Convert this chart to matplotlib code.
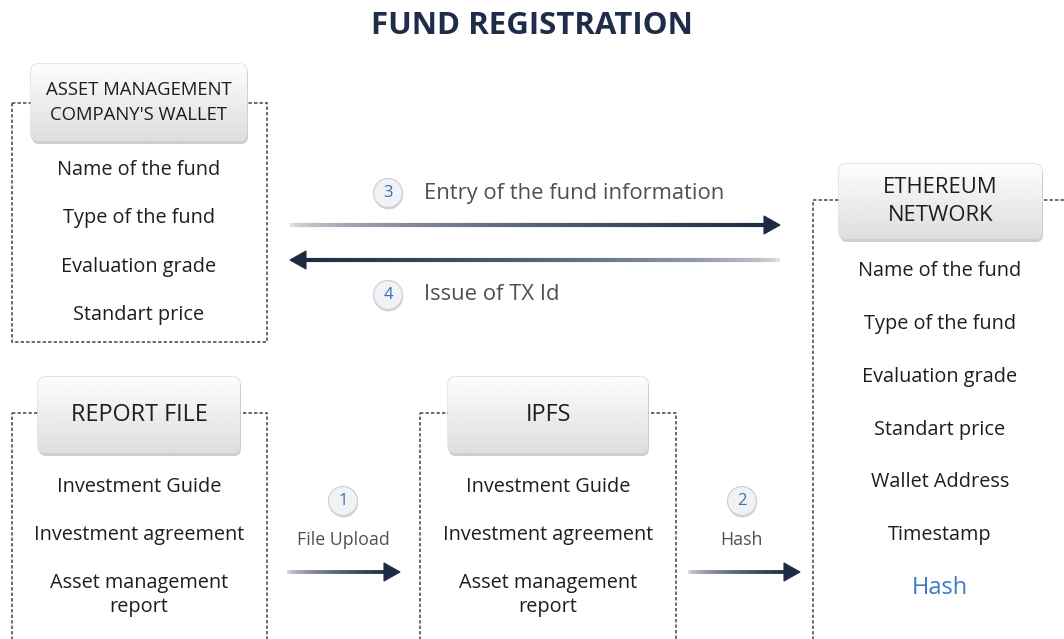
"""Fund registration flow diagram, drawn in pixel coordinates."""

import matplotlib

matplotlib.use("Agg")

import matplotlib.pyplot as plt  # noqa: E402
import numpy as np  # noqa: E402
from matplotlib.collections import LineCollection  # noqa: E402
from matplotlib.patches import Circle, FancyBboxPatch, Polygon, Rectangle  # noqa: E402

plt.rcParams["font.family"] = ["Open Sans", "DejaVu Sans"]

TITLE = "FUND REGISTRATION"

wallet_header = ["ASSET MANAGEMENT", "COMPANY'S WALLET"]
wallet_items = ["Name of the fund", "Type of the fund", "Evaluation grade", "Standart price"]

report_header = ["REPORT FILE"]
report_items = ["Investment Guide", "Investment agreement", "Asset management\nreport"]

ipfs_header = ["IPFS"]
ipfs_items = ["Investment Guide", "Investment agreement", "Asset management\nreport"]

eth_header = ["ETHEREUM", "NETWORK"]
eth_items = ["Name of the fund", "Type of the fund", "Evaluation grade", "Standart price",
             "Wallet Address", "Timestamp", "Hash"]

steps = ["1", "2", "3", "4"]
step_labels = ["File Upload", "Hash", "Entry of the fund information", "Issue of TX Id"]

NAVY = "#1c2a44"
TEXT = "#1e1e1e"
GREY_TEXT = "#505050"
BLUE = "#3a7bc8"

fig = plt.figure(figsize=(10.64, 6.39), dpi=100)
ax = fig.add_axes([0, 0, 1, 1])
ax.set_xlim(0, 1064)
ax.set_ylim(639, 0)
ax.axis("off")


def dashed_box(x0, y0, x1, y1):
    ax.add_patch(Rectangle((x0, y0), x1 - x0, y1 - y0, fill=False, edgecolor="#3f4450",
                           linewidth=1.1, linestyle=(0, (2.2, 1.4)), zorder=1))


def header(x0, y0, x1, y1, lines, size):
    shadow = FancyBboxPatch((x0 + 1, y0 + 3), x1 - x0, y1 - y0,
                            boxstyle="round,pad=0,rounding_size=7",
                            facecolor="#9a9ea6", edgecolor="none", alpha=0.5, zorder=2)
    ax.add_patch(shadow)
    box = FancyBboxPatch((x0, y0), x1 - x0, y1 - y0, boxstyle="round,pad=0,rounding_size=7",
                         facecolor="#eceef1", edgecolor="#d0d3d8", linewidth=0.8, zorder=3)
    ax.add_patch(box)
    grad = np.linspace(0.99, 0.87, 64).reshape(-1, 1)
    img = ax.imshow(grad, cmap="gray", vmin=0, vmax=1, extent=(x0, x1, y1, y0),
                    aspect="auto", zorder=3.5, interpolation="bilinear")
    img.set_clip_path(box)
    cy = (y0 + y1) / 2
    ax.text((x0 + x1) / 2, cy, "\n".join(lines), ha="center", va="center", fontsize=size,
            color=TEXT, linespacing=1.45, zorder=4)


def items(cx, ys, labels, size=14.3):
    for y, lab in zip(ys, labels):
        color = BLUE if lab == "Hash" else TEXT
        fs = 17 if lab == "Hash" else size
        ax.text(cx, y, lab, ha="center", va="center", fontsize=fs, color=color,
                linespacing=1.3, zorder=4)


def grad_arrow(xa, xb, y, lw=3.0, head_len=16, head_w=18):
    # gradient from light (at xa) to navy (at xb), head at xb
    n = 120
    d = np.sign(xb - xa)
    xs = np.linspace(xa, xb - d * head_len * 0.6, n + 1)
    segs = [[(xs[i], y), (xs[i + 1], y)] for i in range(n)]
    light = np.array([0.87, 0.88, 0.90])
    dark = np.array(matplotlib.colors.to_rgb(NAVY))
    t = np.linspace(0, 1, n) ** 0.55
    cols = light[None, :] * (1 - t[:, None]) + dark[None, :] * t[:, None]
    ax.add_collection(LineCollection(segs, colors=cols, linewidths=lw, zorder=3,
                                     capstyle="butt"))
    ax.add_patch(Polygon([(xb, y), (xb - d * head_len, y - head_w / 2),
                          (xb - d * head_len, y + head_w / 2)], closed=True,
                         facecolor=NAVY, edgecolor=NAVY, linewidth=0.8, zorder=4))


def badge(cx, cy, num, r=14.5):
    ax.add_patch(Circle((cx + 0.5, cy + 2), r, facecolor="#b8bcc4", edgecolor="none",
                        alpha=0.6, zorder=3))
    ax.add_patch(Circle((cx, cy), r, facecolor="#f1f2f5", edgecolor="#c9ccd2",
                        linewidth=0.8, zorder=4))
    ax.text(cx, cy, num, ha="center", va="center", fontsize=12, color="#3a6fb0", zorder=5)


# title
ax.text(532, 26, TITLE, ha="center", va="center", fontsize=22.5, fontweight="bold",
        color="#1f2d4a")

# asset management wallet
dashed_box(12, 103, 267, 342)
header(31, 64, 247, 141, wallet_header, 13.3)
items(139, [170, 218, 267, 315], wallet_items)

# report file
dashed_box(12, 413, 267, 660)
header(38, 377, 240, 453, report_header, 16.8)
items(139, [487, 535, 595], report_items)

# ipfs
dashed_box(420, 413, 676, 660)
header(448, 377, 648, 453, ipfs_header, 16.8)
items(548, [487, 535, 595], ipfs_items)

# ethereum network
dashed_box(813, 200, 1080, 660)
header(839, 164, 1042, 239, eth_header, 15.8)
items(940, [271, 324, 377, 430, 482, 535, 588], eth_items)

# steps 3 and 4 (top arrows)
grad_arrow(290, 780, 225)
grad_arrow(780, 290, 260)
badge(388, 193, steps[2])
ax.text(424, 193, step_labels[2], ha="left", va="center", fontsize=15.8, color=GREY_TEXT)
badge(388, 295, steps[3])
ax.text(424, 295, step_labels[3], ha="left", va="center", fontsize=15.8, color=GREY_TEXT)

# steps 1 and 2 (bottom arrows)
grad_arrow(287, 400, 572, lw=2.8)
badge(343, 501, steps[0])
ax.text(343, 540, step_labels[0], ha="center", va="center", fontsize=12.8, color=GREY_TEXT)
grad_arrow(688, 800, 572, lw=2.8)
badge(742, 501, steps[1])
ax.text(742, 540, step_labels[1], ha="center", va="center", fontsize=12.8, color=GREY_TEXT)

fig.savefig("out.png", dpi=100, facecolor="white")
